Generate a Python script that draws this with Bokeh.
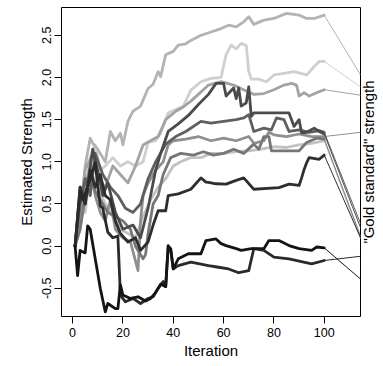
import math
from bokeh.plotting import figure
from bokeh.layouts import row
from bokeh.models import FixedTicker, Range1d
from bokeh.core.properties import value
from bokeh.embed import file_html
from bokeh.resources import INLINE

# ---- data ----
it_a = [1,3,5,7,8,10,12,13,15,17,19,20,22,24,27,30,32,34,35,37,40,42,45,47,51,55,59,62,65,68,70,72,76,80,85,90,93,96,100]
est_a = [0,0.35,0.95,1.28,1.22,1.15,1.05,1.0,1.36,1.25,1.34,1.2,1.48,1.60,1.66,1.87,1.92,2.07,2.01,2.27,2.31,2.385,2.40,2.44,2.50,2.54,2.58,2.62,2.60,2.66,2.72,2.63,2.68,2.70,2.76,2.74,2.70,2.70,2.74]

it_b = [1,3,5,7,9,11,13,16,19,22,25,28,30,33,35,38,41,44,47,51,55,59,61,63,65,67,69,70,71,74,77,80,84,88,93,96,98,100]
est_b = [0,0.2,0.6,1.05,1.2,0.9,0.95,1.05,0.95,1.0,0.95,1.0,1.23,1.25,1.34,1.58,1.62,1.66,1.85,1.95,1.99,2.0,2.27,2.385,2.34,2.405,2.38,2.07,1.98,1.98,1.95,2.03,2.05,2.07,2.03,2.13,2.19,2.19]

it_c = [1,3,5,8,10,13,16,19,22,25,28,31,34,37,41,44,47,50,54,59,64,68,72,76,80,84,87,89,90,92,94,97,100]
est_c = [0,0.4,0.9,1.1,0.8,0.7,0.95,0.85,0.75,0.95,1.2,1.25,1.3,1.5,1.6,1.65,1.72,1.80,1.91,1.95,1.91,1.855,1.80,1.81,1.855,1.91,1.93,1.91,1.78,1.82,1.78,1.82,1.855]

it_d = [1,3,5,8,10,12,14,17,20,24,27,30,33,35,38,42,46,50,54,57,60,61,64,65,66,67,69,70,71,72,86,88,90,91,93,96,98,100]
est_d = [0,0.7,0.5,1.15,0.9,0.6,0.75,0.4,0.2,0.25,0.1,0.45,0.9,1.1,1.36,1.45,1.55,1.68,1.8,1.93,1.93,1.78,1.875,1.75,1.875,1.66,1.7,1.89,1.54,1.58,1.58,1.42,1.5,1.345,1.35,1.40,1.36,1.33]

it_k = [1,3,5,7,9,12,15,18,21,24,27,30,33,37,41,45,51,55,60,65,68,70,72,76,79,81,84,86,90,94,98,100]
est_k = [0,0.5,0.8,0.6,1.1,0.85,0.7,0.6,0.45,0.4,0.5,0.8,1.0,1.21,1.3,1.36,1.48,1.46,1.48,1.50,1.52,1.56,1.36,1.40,1.38,1.52,1.50,1.36,1.38,1.35,1.37,1.35]

it_e = [1,3,5,7,10,13,16,19,22,25,28,31,34,37,40,43,47,51,55,60,65,70,75,80,85,90,95,100]
est_e = [0,0.6,0.4,0.9,0.7,0.5,0.35,0.2,0.15,0.1,0.35,0.55,0.7,0.8,0.95,1.0,1.05,1.05,1.1,1.1,1.12,1.13,1.15,1.18,1.17,1.2,1.22,1.25]

it_f = [1,3,5,7,9,11,13,15,17,20,23,26,27,28,30,33,36,38,40,45,50,55,60,65,70,72,76,78,80,85,90,95,100]
est_f = [0,0.5,0.7,0.95,0.6,0.4,0.3,0.55,0.2,0.1,0.05,-0.29,0.3,0.6,0.75,0.9,1.0,1.2,1.25,1.27,1.3,1.25,1.28,1.25,1.3,1.22,1.25,1.35,1.32,1.30,1.33,1.30,1.30]

it_g = [1,3,5,7,9,11,14,17,20,23,25,28,29,30,32,34,36,39,43,48,52,56,60,64,68,72,74,76,78,79,85,90,93,97,100]
est_g = [0,0.2,0.6,0.8,0.65,0.55,0.4,0.35,0.3,0.2,0.0,-0.15,-0.1,0.15,0.5,0.6,0.85,1.05,1.1,1.08,1.12,1.08,1.1,1.15,1.1,1.21,1.15,1.30,1.30,1.13,1.13,1.13,1.23,1.28,1.27]

it_h = [1,3,5,7,9,11,13,15,17,19,22,25,27,30,32,34,37,38,42,47,51,53,54,57,61,65,68,72,82,86,90,91,92,93,94,98,100]
est_h = [0,0.7,0.5,0.9,0.7,0.85,0.6,0.55,0.3,0.15,0.05,0.1,-0.05,0.05,0.25,0.42,0.42,0.60,0.62,0.675,0.81,0.76,0.755,0.74,0.735,0.78,0.81,0.675,0.695,0.735,0.72,0.81,0.91,0.99,1.05,1.03,1.08]

it_i = [1,2,3,5,6,7,9,11,13,14,17,18,19,20,23,26,29,31,33,35,37,38,39,40,42,46,51,53,57,59,61,65,67,71,76,78,82,86,90,95,97,100]
est_i = [0,-0.35,-0.05,-0.08,0.24,0.2,-0.15,-0.5,-0.78,-0.68,-0.74,-0.74,-0.46,-0.58,-0.62,-0.6,-0.65,-0.62,-0.55,-0.45,-0.48,0.0,-0.03,-0.27,-0.15,-0.09,-0.09,0.066,0.086,0.03,0.007,-0.03,-0.05,-0.03,-0.03,0.066,0.066,0.007,-0.03,-0.05,-0.01,-0.02]

it_j = [1,3,4,6,9,10,11,12,14,16,18,19,21,24,27,30,32,34,36,37,38,39,40,42,47,54,58,62,66,70,72,76,80,86,95,100]
est_j = [0,0.65,0.55,0.7,0.99,0.71,0.48,0.45,0.165,0.1,0.12,-0.58,-0.66,-0.62,-0.68,-0.62,-0.6,-0.5,-0.42,-0.48,0.007,-0.05,-0.27,-0.23,-0.19,-0.23,-0.25,-0.27,-0.315,-0.29,-0.03,-0.05,-0.13,-0.15,-0.21,-0.17]

gold = {"a": 2.03, "b": 1.89, "c": 1.79, "d": 0.22, "k": 0.27, "e": 0.09,
        "f": 1.35, "g": 0.12, "h": 0.10, "i": -0.39, "j": -0.12}

x_ticks = [0, 20, 40, 60, 80, 100]
y_ticks = [-0.5, 0.0, 0.5, 1.0, 1.5, 2.0, 2.5]
y_labels = ["-0.5", "0.0", "0.5", "1.0", "1.5", "2.0", "2.5"]
right_title = '"Gold standard" strength'

# drawing order: light first, dark last
series = [
    (it_b, est_b, "#cfcfcf", gold["b"]),
    (it_e, est_e, "#c2c2c2", gold["e"]),
    (it_a, est_a, "#b3b3b3", gold["a"]),
    (it_c, est_c, "#a3a3a3", gold["c"]),
    (it_f, est_f, "#8f8f8f", gold["f"]),
    (it_g, est_g, "#767676", gold["g"]),
    (it_k, est_k, "#5f5f5f", gold["k"]),
    (it_d, est_d, "#4b4b4b", gold["d"]),
    (it_h, est_h, "#2e2e2e", gold["h"]),
    (it_j, est_j, "#2a2a2a", gold["j"]),
    (it_i, est_i, "#141414", gold["i"]),
]

X_LO, X_HI = -4.4, 114.4
Y_LO, Y_HI = -0.834, 2.83
FONT = "Liberation Sans"
H = 365
B_TOP, B_BOT = 7, 49

p = figure(width=361, height=H,
           x_range=Range1d(X_LO, X_HI), y_range=Range1d(Y_LO, Y_HI),
           output_backend="svg", toolbar_location=None,
           min_border_left=61, min_border_right=1,
           min_border_top=B_TOP, min_border_bottom=B_BOT)
p.grid.visible = False
p.outline_line_color = "black"
p.outline_line_width = 1
p.background_fill_color = "white"

for its, ests, col, g in series:
    p.line(its, ests, line_color=col, line_width=2.8, line_join="round", line_cap="round")
for its, ests, col, g in series:
    p.line([its[-1], X_HI], [ests[-1], g], line_color=col, line_width=1)

xa = p.xaxis[0]
xa.ticker = FixedTicker(ticks=x_ticks)
xa.axis_label = "Iteration"
ya = p.yaxis[0]
ya.ticker = FixedTicker(ticks=y_ticks)
ya.major_label_overrides = {t: l for t, l in zip(y_ticks, y_labels)}
ya.major_label_orientation = "vertical"
ya.axis_label = "Estimated Strength"

for ax in (xa, ya):
    ax.axis_line_color = None
    ax.major_tick_out = 7
    ax.major_tick_in = 0
    ax.minor_tick_out = 0
    ax.minor_tick_in = 0
    ax.major_tick_line_color = "black"
    ax.major_label_text_font = FONT
    ax.major_label_text_font_size = "12.5px"
    ax.major_label_text_color = "black"
    ax.axis_label_text_font = FONT
    ax.axis_label_text_font_size = "15px"
    ax.axis_label_text_font_style = "normal"
    ax.axis_label_text_color = "black"
xa.major_label_standoff = 4
xa.axis_label_standoff = 2
ya.major_label_standoff = 3
ya.axis_label_standoff = 5

# narrow side figure carrying the right-hand title
p2 = figure(width=19, height=H, x_range=Range1d(0, 1), y_range=Range1d(Y_LO, Y_HI),
            output_backend="svg", toolbar_location=None,
            min_border_left=0, min_border_right=0,
            min_border_top=B_TOP, min_border_bottom=B_BOT)
p2.axis.visible = False
p2.grid.visible = False
p2.outline_line_color = None
p2.text(x=[0], y=[(Y_LO + Y_HI) / 2], text=[right_title], angle=math.pi / 2,
        text_align="center", text_baseline="top", x_offset=-2,
        text_font=value(FONT), text_font_size=value("15px"), text_color="black")

layout = row(p, p2, spacing=0)
open("out.html", "w").write(file_html(layout, INLINE))
